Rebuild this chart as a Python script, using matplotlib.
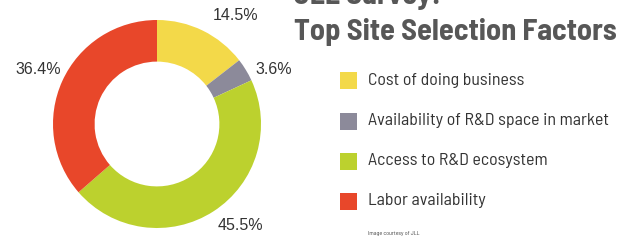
import matplotlib.pyplot as plt
from matplotlib import font_manager as fm

# Survey shares (percent), drawn clockwise from 12 o'clock
factors = ['Cost of doing business', 'Availability of R&D space in market',
           'Access to R&D ecosystem', 'Labor availability']
shares = [14.5, 3.6, 45.5, 36.4]
share_labels = ['14.5%', '3.6%', '45.5%', '36.4%']
colors = ['#f3d949', '#8c8a9a', '#bcd12e', '#e8472a']

W, H = 624, 246
fig = plt.figure(figsize=(W / 100, H / 100), dpi=100)
fig.patch.set_facecolor('white')

# pick a condensed face for the headline / legend text
installed = {f.name for f in fm.fontManager.ttflist}
narrow = 'DejaVu Sans'
for name in ['Barlow Semi Condensed', 'Barlow Condensed', 'Asap Condensed', 'Archivo Narrow']:
    if name in installed:
        narrow = name
        break

renderer = fig.canvas.get_renderer()


def px(x, y):
    return x / W, 1 - y / H


def fit(t, width):
    # scale a text so its drawn width matches the reference
    bb = t.get_window_extent(renderer)
    t.set_fontsize(t.get_fontsize() * width / bb.width)


# donut
cx, cy, r = 157, 124, 104
ax = fig.add_axes([(cx - r) / W, (H - cy - r) / H, 2 * r / W, 2 * r / H])
ax.pie(shares, colors=colors, startangle=90, counterclock=False,
       radius=1.0, wedgeprops=dict(width=0.4, edgecolor='none'))
ax.set_xlim(-1, 1)
ax.set_ylim(-1, 1)
ax.set_aspect('equal')
ax.axis('off')

# percent labels around the ring
label_pos = [(236, 16), (274, 70), (240, 226), (38, 69)]
for lab, (x, y) in zip(share_labels, label_pos):
    fig.text(*px(x, y), lab, ha='center', va='center', fontsize=11.5,
             color='#333333', family='Liberation Sans')

# title
t1 = fig.text(*px(294, 4), 'JLL Survey:', ha='left', va='baseline', fontsize=16,
              fontweight='bold', color='#575757', family=narrow)
t2 = fig.text(*px(294, 40), 'Top Site Selection Factors', ha='left', va='baseline',
              fontsize=16, fontweight='bold', color='#575757', family=narrow)
fit(t2, 322)
t1.set_fontsize(t2.get_fontsize())

# legend
leg_y = [80, 121, 161, 201]
leg_txt = []
for name, col, y in zip(factors, colors, leg_y):
    fig.patches.append(plt.Rectangle(px(340, y + 8.5), 17 / W, 17 / H,
                                     transform=fig.transFigure,
                                     facecolor=col, edgecolor='none'))
    leg_txt.append(fig.text(*px(368, y), name, ha='left', va='center', fontsize=11,
                            color='#333333', family=narrow))
fit(leg_txt[1], 240)
for t in leg_txt:
    t.set_fontsize(leg_txt[1].get_fontsize())

credit = fig.text(*px(368, 233), 'Image courtesy of JLL', ha='left', va='center',
                  fontsize=6, color='#444444', family=narrow)
fit(credit, 52)

fig.savefig('out.png', dpi=100, facecolor='white')
